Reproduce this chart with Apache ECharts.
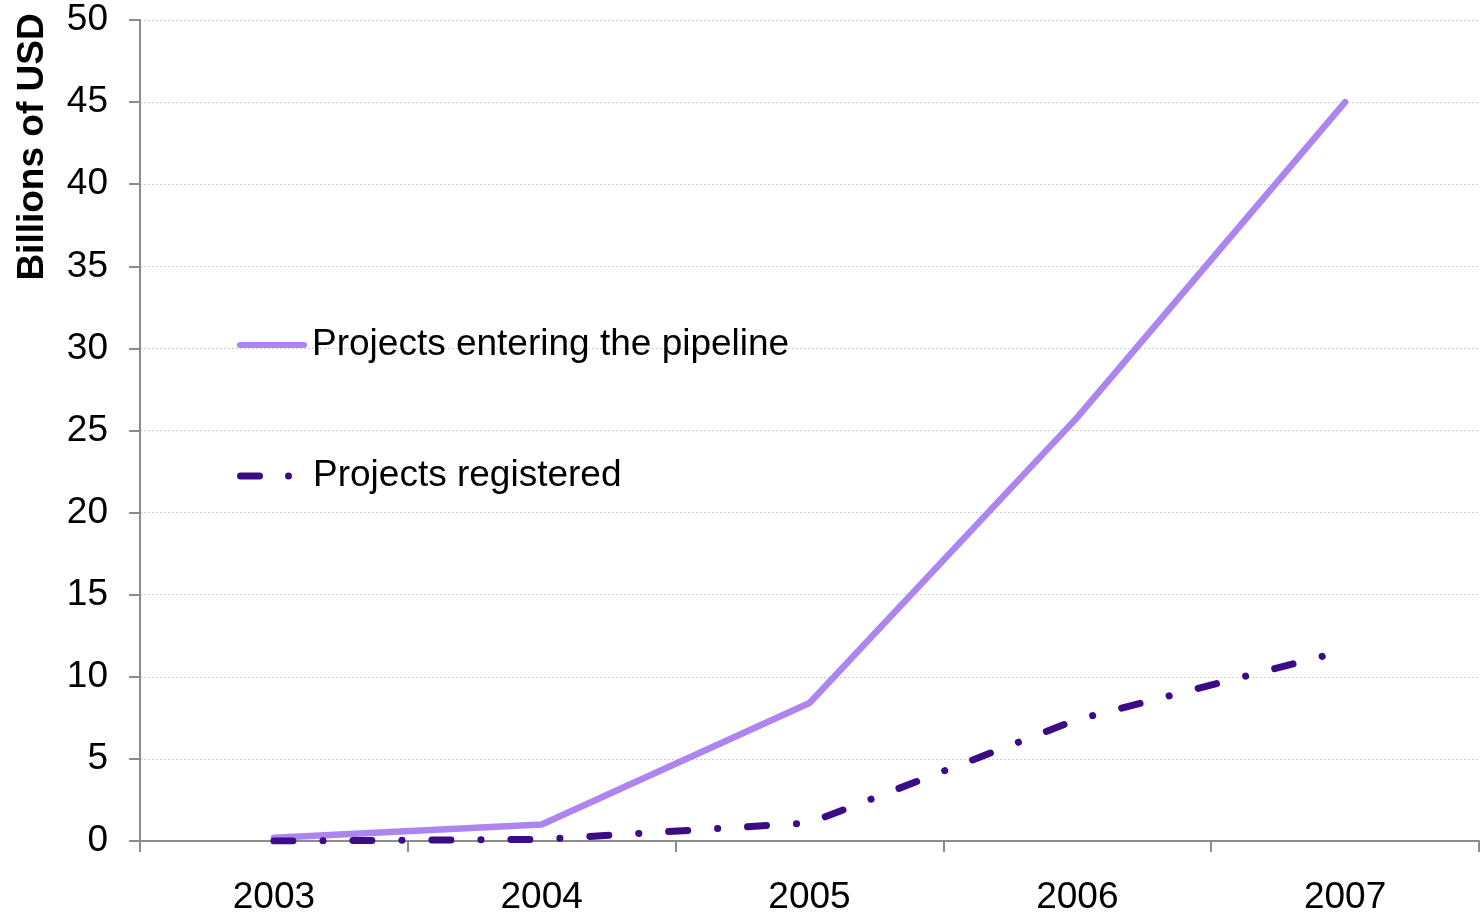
<!DOCTYPE html>
<html>
<head>
<meta charset="utf-8">
<style>
  html, body { margin: 0; padding: 0; background: #fff; }
  #chart { width: 1480px; height: 912px; }
</style>
<script src="https://cdn.jsdelivr.net/npm/echarts@6/dist/echarts.min.js"></script>
</head>
<body>
<div id="chart"></div>
<script>
// Investment flowing through the project pipeline, billions of USD
const years = ['2003', '2004', '2005', '2006', '2007'];
const pipelineValues = [0.2, 1.0, 8.4, 25.8, 45.0];
const registeredValues = [0.0, 0.1, 1.1, 7.4, 11.6];
const yTicks = { min: 0, max: 50, step: 5 };

const FONT = '"Liberation Sans", Arial, Helvetica, sans-serif';
const PIPELINE_COLOR = '#ad85f1';
const REGISTERED_COLOR = '#3c0b86';
const AXIS_COLOR = '#8c8c8c';

// Legend keys: a solid rounded bar, and a dash followed by a dot
const SOLID_KEY = 'path://M3,0 H67 A3,3 0 0 1 67,6 H3 A3,3 0 0 1 3,0 Z';
const DASH_DOT_KEY = 'path://M3.5,0 H22.5 A3.5,3.5 0 0 1 22.5,7 H3.5 A3.5,3.5 0 0 1 3.5,0 Z M48,3.5 A3.5,3.5 0 1 0 55,3.5 A3.5,3.5 0 1 0 48,3.5 Z';

const chart = echarts.init(document.getElementById('chart'), null, { renderer: 'canvas' });

const legendText = { color: '#000', fontSize: 37, fontFamily: FONT, lineHeight: 40 };

chart.setOption({
  animation: false,
  grid: { left: 140, right: 1, top: 20, bottom: 71, containLabel: false, outerBoundsMode: 'none' },
  legend: [
    {
      data: [{ name: 'Projects entering the pipeline', icon: SOLID_KEY }],
      left: 237, top: 325, padding: 0,
      itemWidth: 70, itemHeight: 6,
      textStyle: legendText
    },
    {
      data: [{ name: 'Projects registered', icon: DASH_DOT_KEY }],
      left: 237, top: 456, padding: 0,
      itemWidth: 55, itemHeight: 7,
      textStyle: Object.assign({ padding: [0, 0, 0, 16] }, legendText)
    }
  ],
  xAxis: {
    type: 'category',
    data: years,
    boundaryGap: true,
    axisLine: { show: true, lineStyle: { color: AXIS_COLOR, width: 2 } },
    axisTick: { show: true, length: 11, lineStyle: { color: AXIS_COLOR, width: 2 } },
    axisLabel: { color: '#000', fontSize: 37, fontFamily: FONT, margin: 38 },
    splitLine: { show: false }
  },
  yAxis: {
    type: 'value',
    min: yTicks.min, max: yTicks.max, interval: yTicks.step,
    axisLine: { show: true, lineStyle: { color: AXIS_COLOR, width: 2 } },
    axisTick: { show: true, length: 11, lineStyle: { color: AXIS_COLOR, width: 2 } },
    axisLabel: { color: '#000', fontSize: 37, fontFamily: FONT, margin: 32 },
    splitLine: { show: true, lineStyle: { color: '#d0d0d0', width: 1, type: [2, 2] } }
  },
  graphic: [
    {
      type: 'text',
      x: 33, y: 147,
      rotation: Math.PI / 2,
      style: {
        text: 'Billions of USD',
        fill: '#000',
        font: 'bold 37px ' + FONT,
        textAlign: 'center',
        textVerticalAlign: 'middle'
      }
    }
  ],
  series: [
    {
      name: 'Projects entering the pipeline',
      type: 'line',
      data: pipelineValues,
      showSymbol: false,
      symbol: 'none',
      color: PIPELINE_COLOR,
      lineStyle: { color: PIPELINE_COLOR, width: 6.5, cap: 'round', join: 'round' }
    },
    {
      name: 'Projects registered',
      type: 'line',
      data: registeredValues,
      showSymbol: false,
      symbol: 'none',
      color: REGISTERED_COLOR,
      lineStyle: {
        color: REGISTERED_COLOR, width: 7, cap: 'round', join: 'round',
        type: [19, 30, 0.1, 29.9]
      }
    }
  ]
});
</script>
</body>
</html>
